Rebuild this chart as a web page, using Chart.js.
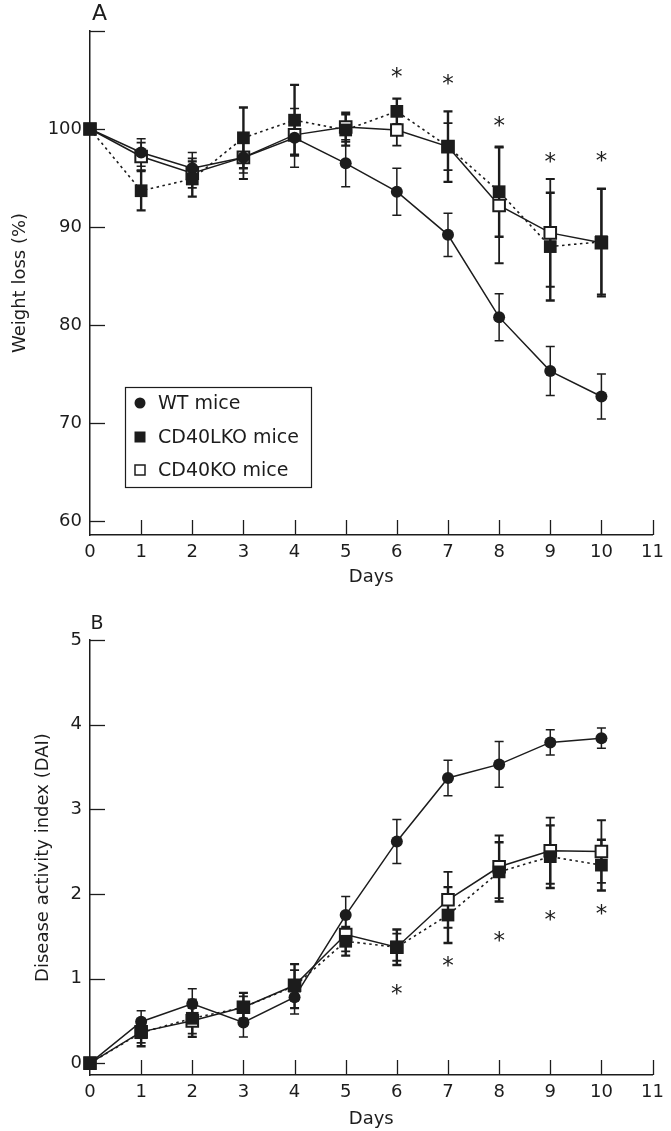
<!DOCTYPE html>
<html><head><meta charset="utf-8">
<script src="https://cdn.jsdelivr.net/npm/chart.js@4.4.1/dist/chart.umd.min.js"></script>
<style>
html,body{margin:0;padding:0;background:#fff;}
#wrap{position:relative;width:671px;height:1131px;overflow:hidden;}
canvas{position:absolute;left:0;}
</style></head><body>
<div id="wrap">
<canvas id="cA" width="671" height="600" style="top:0px"></canvas>
<canvas id="cB" width="671" height="531" style="top:600px"></canvas>
</div>
<script>
// ---------- DATA ----------
const days = [0,1,2,3,4,5,6,7,8,9,10];
const xTicks = [0,1,2,3,4,5,6,7,8,9,10,11];
const seriesNames = ['WT mice','CD40LKO mice','CD40KO mice'];

// Panel A: weight loss (%)
const wtA       = [100, 97.6, 96.0, 97.1, 99.1, 96.5, 93.6, 89.2, 80.8, 75.3, 72.7];
const wtErrA    = [0,   1.4,  1.6,  1.6,  3.0,  2.4,  2.4,  2.2,  2.4,  2.5,  2.3];
const cd40lA    = [100, 93.7, 94.9, 99.1, 100.9, 99.9, 101.8, 98.2, 93.6, 88.0, 88.5];
const cd40lErrA = [0,   2.0,  1.8,  3.1,  3.6,  1.6,  1.3,  3.6,  4.6,  5.5,  5.4];
const cd40A     = [100, 97.2, 95.5, 97.1, 99.4, 100.2, 99.9, 98.2, 92.2, 89.4, 88.4];
const cd40ErrA  = [0,   1.4,  1.5,  2.2,  2.0,  1.5,  1.6,  2.4,  5.9,  5.5,  5.5];
const yTicksA   = [60, 70, 80, 90, 100, 110];
const yLabelsA  = ['60','70','80','90','100',''];
const starDaysA = [6, 7, 8, 9, 10];
const starValsA = [105.8, 105.0, 100.8, 97.1, 97.2];

// Panel B: disease activity index
const wtB       = [0, 0.49, 0.70, 0.48, 0.78, 1.75, 2.62, 3.37, 3.53, 3.79, 3.84];
const wtErrB    = [0, 0.13, 0.18, 0.17, 0.20, 0.22, 0.26, 0.21, 0.27, 0.15, 0.12];
const cd40lB    = [0, 0.36, 0.53, 0.66, 0.91, 1.44, 1.37, 1.75, 2.26, 2.44, 2.34];
const cd40lErrB = [0, 0.16, 0.22, 0.17, 0.26, 0.17, 0.21, 0.33, 0.35, 0.37, 0.30];
const cd40B     = [0, 0.37, 0.50, 0.66, 0.92, 1.52, 1.37, 1.93, 2.32, 2.51, 2.50];
const cd40ErrB  = [0, 0.13, 0.15, 0.13, 0.18, 0.20, 0.16, 0.33, 0.37, 0.39, 0.37];
const yTicksB   = [0, 1, 2, 3, 4, 5];
const yLabelsB  = ['0','1','2','3','4','5'];
const starDaysB = [6, 7, 8, 9, 10];
const starValsB = [0.87, 1.20, 1.50, 1.75, 1.82];

// ---------- STYLE ----------
const INK = '#1c1c1c';
const FONT = 'DejaVu Sans';

function pts(vals){ return days.map((d,i)=>({x:d, y:vals[i]})); }

const decor = {
  id: 'decor',
  beforeDatasetsDraw(chart, args, o) {
    const ctx = chart.ctx, xs = chart.scales.x, ys = chart.scales.y;
    ctx.save();
    ctx.strokeStyle = INK;
    o.errs.forEach(e => {
      ctx.lineWidth = e.w;
      days.forEach((d,i) => {
        if (!e.err[i]) return;
        const px = xs.getPixelForValue(d);
        const y1 = ys.getPixelForValue(e.vals[i] + e.err[i]);
        const y2 = ys.getPixelForValue(e.vals[i] - e.err[i]);
        ctx.beginPath();
        ctx.moveTo(px, y1); ctx.lineTo(px, y2);
        ctx.moveTo(px-4.5, y1); ctx.lineTo(px+4.5, y1);
        ctx.moveTo(px-4.5, y2); ctx.lineTo(px+4.5, y2);
        ctx.stroke();
      });
    });
    ctx.restore();
  },
  afterDraw(chart, args, o) {
    const ctx = chart.ctx, xs = chart.scales.x, ys = chart.scales.y;
    const ca = chart.chartArea;
    ctx.save();
    ctx.strokeStyle = INK; ctx.lineWidth = 1.3;
    // inward tick marks
    xs.ticks.forEach(t => {
      if (t.value === 0) return;
      const px = Math.round(xs.getPixelForValue(t.value)) + 0.5;
      ctx.beginPath(); ctx.moveTo(px, ca.bottom); ctx.lineTo(px, ca.bottom - 15); ctx.stroke();
    });
    ys.ticks.forEach(t => {
      const py = Math.round(ys.getPixelForValue(t.value)) + 0.5;
      ctx.beginPath(); ctx.moveTo(ca.left, py); ctx.lineTo(ca.left + 15, py); ctx.stroke();
    });
    // stars
    ctx.fillStyle = INK;
    ctx.font = '23px "' + FONT + '"';
    ctx.textAlign = 'center';
    ctx.textBaseline = 'alphabetic';
    const m = ctx.measureText('*');
    const off = (m.actualBoundingBoxAscent - m.actualBoundingBoxDescent) / 2;
    o.starDays.forEach((d,i) => {
      ctx.fillText('*', xs.getPixelForValue(d), ys.getPixelForValue(o.starVals[i]) + off);
    });
    // panel letter
    ctx.font = o.letterSize + 'px "' + FONT + '"';
    ctx.textBaseline = 'middle';
    ctx.fillText(o.letter, o.letterX, o.letterY);
    // legend
    if (o.legend) {
      const L = o.legend;
      ctx.lineWidth = 1.2;
      ctx.strokeRect(L.x + 0.5, L.y + 0.5, L.w, L.h);
      ctx.font = '19px "' + FONT + '"';
      ctx.textAlign = 'left';
      ctx.textBaseline = 'middle';
      seriesNames.forEach((name, i) => {
        const cy = L.y + L.rows[i];
        const mx = L.x + 15;
        ctx.fillStyle = INK;
        if (i === 0) { ctx.beginPath(); ctx.arc(mx, cy, 5.5, 0, Math.PI*2); ctx.fill(); }
        else if (i === 1) { ctx.fillRect(mx-5.5, cy-5.5, 11, 11); }
        else { ctx.lineWidth = 1.5; ctx.strokeRect(mx-5, cy-5, 10, 10); }
        ctx.fillStyle = INK;
        ctx.fillText(name, L.x + 33, cy + 1);
      });
    }
    ctx.restore();
  }
};

function makeChart(id, d, opt) {
  return new Chart(document.getElementById(id), {
    type: 'line',
    data: {
      datasets: [
        { label: seriesNames[1], data: pts(d.l), order: 0, borderColor: INK, borderWidth: 1.6,
          borderDash: [2.5, 3.5], pointStyle: 'rect', pointRadius: 9, pointBackgroundColor: INK,
          pointBorderColor: INK, pointBorderWidth: 0, clip: false },
        { label: seriesNames[0], data: pts(d.w), order: 1, borderColor: INK, borderWidth: 1.5,
          pointStyle: 'circle', pointRadius: 6, pointBackgroundColor: INK,
          pointBorderColor: INK, pointBorderWidth: 0, clip: false },
        { label: seriesNames[2], data: pts(d.k), order: 2, borderColor: INK, borderWidth: 1.5,
          pointStyle: 'rect', pointRadius: 8.2, pointBackgroundColor: '#fff',
          pointBorderColor: INK, pointBorderWidth: 2, clip: false }
      ]
    },
    options: {
      responsive: false, animation: false, devicePixelRatio: 1,
      layout: { padding: { left: 0, top: opt.top, right: 12, bottom: 0 } },
      plugins: {
        legend: { display: false }, tooltip: { enabled: false },
        decor: opt.decor
      },
      elements: { line: { tension: 0 } },
      scales: {
        x: {
          type: 'linear', min: 0, max: 11,
          afterBuildTicks: s => { s.ticks = xTicks.map(v => ({ value: v })); },
          afterFit: s => { s.height = opt.xH; },
          ticks: { color: INK, font: { family: FONT, size: 18 }, padding: 7, maxRotation: 0, autoSkip: false,
                   callback: v => String(v) },
          grid: { display: false, drawTicks: false },
          border: { display: true, color: INK, width: 1.5 },
          title: { display: true, text: 'Days', color: INK, font: { family: FONT, size: 18 },
                   padding: { top: 0, bottom: opt.xTitlePad } }
        },
        y: {
          type: 'linear', min: opt.yMin, max: opt.yMax,
          afterBuildTicks: s => { s.ticks = opt.yTicks.map(v => ({ value: v })); },
          afterFit: s => { s.width = 90; },
          ticks: { color: INK, font: { family: FONT, size: 18 }, padding: 8,
                   callback: v => opt.yLabels[opt.yTicks.indexOf(v)] },
          grid: { display: false, drawTicks: false },
          border: { display: true, color: INK, width: 1.5 },
          title: { display: true, text: opt.yTitle, color: INK, font: { family: FONT, size: 18 },
                   padding: { top: opt.yTitlePad, bottom: 0 } }
        }
      }
    },
    plugins: [decor]
  });
}

makeChart('cA', { w: wtA, l: cd40lA, k: cd40A }, {
  top: 31, xH: 65, xTitlePad: 12, yMin: 58.57, yMax: 110, yTicks: yTicksA, yLabels: yLabelsA,
  yTitle: 'Weight loss (%)', yTitlePad: 10,
  decor: {
    errs: [
      { vals: wtA, err: wtErrA, w: 1.5 },
      { vals: cd40A, err: cd40ErrA, w: 1.8 },
      { vals: cd40lA, err: cd40lErrA, w: 2.4 }
    ],
    starDays: starDaysA, starVals: starValsA,
    letter: 'A', letterSize: 22, letterX: 99.5, letterY: 14,
    legend: { x: 125, y: 387, w: 186, h: 100, rows: [16, 50, 83] }
  }
});

makeChart('cB', { w: wtB, l: cd40lB, k: cd40B }, {
  top: 40, xH: 531 - 475, xTitlePad: 1, yMin: -0.14, yMax: 5, yTicks: yTicksB, yLabels: yLabelsB,
  yTitle: 'Disease activity index (DAI)', yTitlePad: 33,
  decor: {
    errs: [
      { vals: wtB, err: wtErrB, w: 1.5 },
      { vals: cd40B, err: cd40ErrB, w: 1.8 },
      { vals: cd40lB, err: cd40lErrB, w: 2.4 }
    ],
    starDays: starDaysB, starVals: starValsB,
    letter: 'B', letterSize: 19, letterX: 97, letterY: 24,
    legend: null
  }
});
</script>
</body></html>
